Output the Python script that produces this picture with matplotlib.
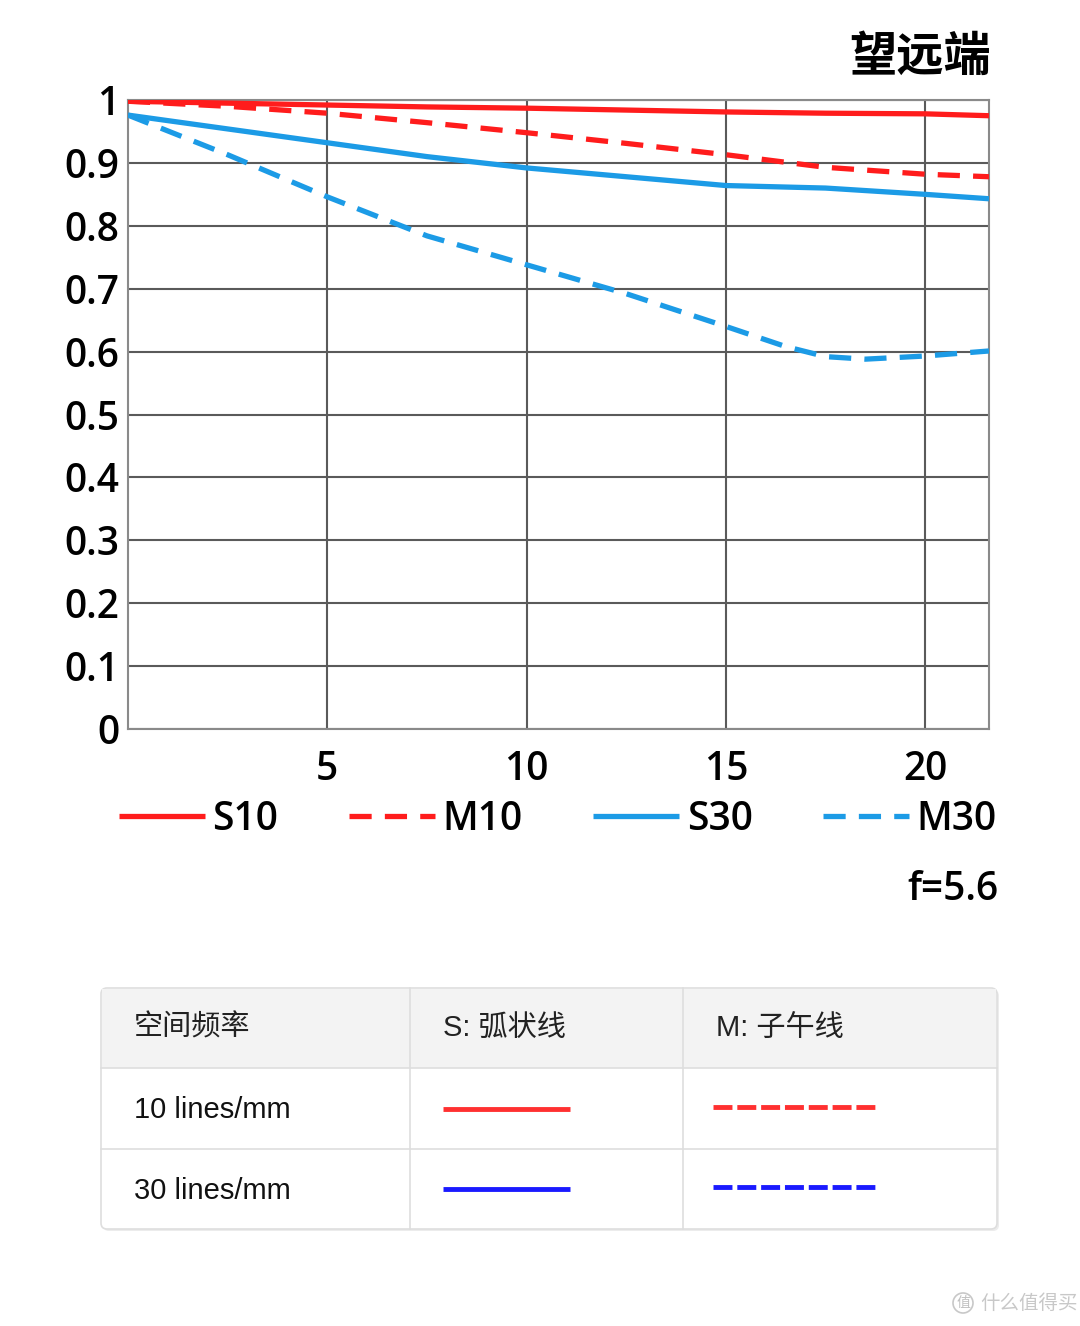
import matplotlib
matplotlib.use('Agg')
import matplotlib.pyplot as plt
from matplotlib.patches import FancyBboxPatch, Rectangle, Circle

# MTF data (spatial position in mm vs contrast)
s10_x = [0, 2.5, 5, 7.5, 10, 12.5, 15, 17.5, 20, 21.6]
s10_y = [0.998, 0.995, 0.992, 0.989, 0.987, 0.984, 0.981, 0.979, 0.978, 0.975]

m10_x = [0, 2.5, 5, 7.5, 10, 12.5, 15, 17.5, 20, 21.6]
m10_y = [0.998, 0.990, 0.979, 0.964, 0.948, 0.931, 0.913, 0.893, 0.882, 0.878]

s30_x = [0, 2.5, 5, 7.5, 10, 12.5, 15, 17.5, 20, 21.6]
s30_y = [0.976, 0.954, 0.932, 0.910, 0.892, 0.878, 0.864, 0.860, 0.850, 0.843]

m30_x = [0, 2.5, 5, 7.5, 10, 12.5, 15, 16.5, 17.5, 18.5, 20, 21.6]
m30_y = [0.976, 0.913, 0.846, 0.784, 0.738, 0.692, 0.640, 0.608, 0.592, 0.588, 0.593, 0.601]

x_ticks = [5, 10, 15, 20]
y_ticks = [0, 0.1, 0.2, 0.3, 0.4, 0.5, 0.6, 0.7, 0.8, 0.9, 1.0]
y_tick_labels = ['0', '0.1', '0.2', '0.3', '0.4', '0.5', '0.6', '0.7', '0.8', '0.9', '1']

table_header = ['空间频率', 'S: 弧状线', 'M: 子午线']
table_rows = ['10 lines/mm', '30 lines/mm']

RED = '#ff1c1c'
BLUE = '#1c9be6'
GRID = '#5a5a5a'

W, H = 1080, 1326
fig = plt.figure(figsize=(W / 100, H / 100), dpi=100)
fig.patch.set_facecolor('white')

# main chart
ax = fig.add_axes([128 / W, 1 - 729 / H, 861 / W, 629 / H])
ax.set_xlim(0, 21.6)
ax.set_ylim(0, 1.0)
lw = 3.8
dash = (4.2, 2.5)
ax.plot(s10_x, s10_y, color=RED, lw=lw, label='S10', solid_capstyle='butt', zorder=3)
ax.plot(m10_x, m10_y, color=RED, lw=lw, ls=(0, dash), label='M10', dash_capstyle='butt', zorder=3)
ax.plot(s30_x, s30_y, color=BLUE, lw=lw, label='S30', solid_capstyle='butt', zorder=3)
ax.plot(m30_x, m30_y, color=BLUE, lw=lw, ls=(0, dash), label='M30', dash_capstyle='butt', zorder=3)

ax.set_xticks(x_ticks)
ax.set_yticks(y_ticks)
ax.set_yticklabels(y_tick_labels)
ax.grid(True, color=GRID, lw=1.5)
ax.tick_params(length=0, labelsize=28)
ax.tick_params(axis='x', pad=15)
ax.tick_params(axis='y', pad=6)
for lab in ax.get_xticklabels() + ax.get_yticklabels():
    lab.set_family('Open Sans')
    lab.set_fontweight('semibold')
for sp in ax.spines.values():
    sp.set_color('#8a8a8a')
    sp.set_linewidth(1.5)

fig.text(991 / W, 1 - 57 / H, '望远端', fontsize=34, fontweight='bold',
         family=['Noto Sans CJK SC', 'DejaVu Sans'], ha='right', va='center')

leg = ax.legend(loc='center', bbox_to_anchor=(558 / W, 1 - 820 / H),
                bbox_transform=fig.transFigure, ncol=4, frameon=False,
                prop={'family': 'Open Sans', 'size': 28, 'weight': 'semibold'},
                handlelength=2.2, handletextpad=0.2, columnspacing=1.82,
                borderaxespad=0)

fig.text(998 / W, 1 - 890 / H, 'f=5.6', fontsize=28, family='Open Sans',
         fontweight='semibold', ha='right', va='center')

# table drawn in pixel coordinates
tx = fig.add_axes([0, 0, 1, 1], zorder=-1)
tx.set_xlim(0, W)
tx.set_ylim(H, 0)
tx.axis('off')

left, right, top, bottom = 101, 997, 988, 1229
col_edges = [left, 410, 683, right]
row_edges = [top, 1068, 1149, bottom]
border = '#dedede'

tx.add_patch(FancyBboxPatch((left + 2, top + 2), right - left, bottom - top,
                            boxstyle='round,pad=0,rounding_size=6',
                            fc='#ececec', ec='none'))
tx.add_patch(FancyBboxPatch((left, top), right - left, bottom - top,
                            boxstyle='round,pad=0,rounding_size=6',
                            fc='white', ec=border, lw=1.2))
tx.add_patch(Rectangle((left + 1, top + 1), right - left - 2, row_edges[1] - top - 1,
                       fc='#f3f3f3', ec='none'))
for y in row_edges[1:-1]:
    tx.plot([left, right], [y, y], color=border, lw=1.2)
for x in col_edges[1:-1]:
    tx.plot([x, x], [top, bottom], color=border, lw=1.2)

tfont = ['Liberation Sans', 'Noto Sans CJK SC']
for i, head in enumerate(table_header):
    tx.text(col_edges[i] + 33, (row_edges[0] + row_edges[1]) / 2, head,
            fontsize=21, family=tfont, ha='left', va='center', color='#222222')
for j, row in enumerate(table_rows):
    tx.text(col_edges[0] + 33, (row_edges[j + 1] + row_edges[j + 2]) / 2 + 2, row,
            fontsize=21, family=tfont, ha='left', va='center', color='#111111')

sample_colors = ['#ff3030', '#1a1aff']
for j, c in enumerate(sample_colors):
    yc = (row_edges[j + 1] + row_edges[j + 2]) / 2
    tx.plot([col_edges[1] + 33, col_edges[1] + 160], [yc, yc], color=c, lw=3.5,
            solid_capstyle='butt')
    tx.plot([col_edges[2] + 30, col_edges[2] + 193], [yc - 2, yc - 2], color=c, lw=3.5,
            ls=(0, (3.9, 1.0)), dash_capstyle='butt')

# watermark
tx.add_patch(Circle((963, 1303), 10, fc='none', ec='#c8c8c8', lw=1.2))
tx.text(963, 1303, '值', fontsize=10, color='#c0c0c0', ha='center', va='center',
        family=['Noto Sans CJK SC'])
tx.text(980, 1303, '什么值得买', fontsize=14, color='#c8c8c8', ha='left', va='center',
        family=['Noto Sans CJK SC'])

fig.savefig('out.png', dpi=100)
